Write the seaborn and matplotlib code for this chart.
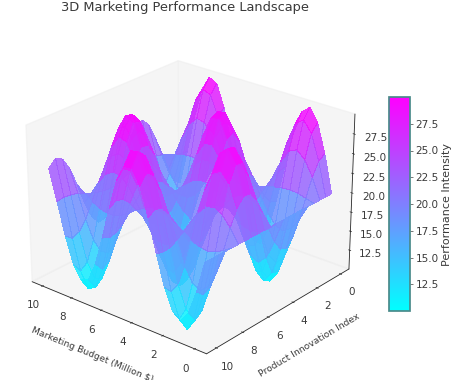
import numpy as np
import matplotlib
matplotlib.use("Agg")
import matplotlib.pyplot as plt
import seaborn as sns
from matplotlib.cm import ScalarMappable
from matplotlib.colors import Normalize

# Heights, one row per innovation value, one column per budget value
budget = [0, .5, 1, 1.5, 2, 2.5, 3, 3.5, 4, 4.5, 5, 5.5, 6, 6.5, 7, 7.5, 8, 8.5, 9, 9.5, 10]
innovation = [0, .5, 1, 1.5, 2, 2.5, 3, 3.5, 4, 4.5, 5, 5.5, 6, 6.5, 7, 7.5, 8, 8.5, 9, 9.5, 10]
performance = [
    [20,24.8,28.4,30,29.1,26,21.4,16.5,12.4,10.2,10.4,12.9,17.2,22.2,26.6,29.4,29.9,28,24.1,19.2,14.6],
    [20,24.2,27.4,28.8,28,25.3,21.2,16.9,13.3,11.4,11.6,13.8,17.5,21.9,25.8,28.3,28.7,27,23.6,19.3,15.3],
    [20,22.6,24.5,25.4,24.9,23.2,20.8,18.1,15.9,14.7,14.8,16.2,18.5,21.2,23.6,25.1,25.3,24.3,22.2,19.6,17.1],
    [20,20.3,20.6,20.7,20.6,20.4,20.1,19.8,19.5,19.3,19.3,19.5,19.8,20.2,20.5,20.7,20.7,20.6,20.3,19.9,19.6],
    [20,18,16.5,15.8,16.2,17.5,19.4,21.5,23.2,24.1,24,23,21.2,19.1,17.3,16.1,15.9,16.7,18.3,20.3,22.2],
    [20,16.2,13.3,12,12.7,15.2,18.9,22.8,26.1,27.8,27.7,25.7,22.2,18.2,14.7,12.5,12.1,13.6,16.7,20.6,24.3],
    [20,15.2,11.7,10.1,11,14.1,18.6,23.5,27.5,29.7,29.5,27,22.8,17.8,13.5,10.7,10.2,12.1,15.9,20.8,25.3],
    [20,15.5,12.1,10.6,11.5,14.4,18.7,23.3,27.1,29.2,29,26.6,22.6,17.9,13.8,11.2,10.7,12.5,16.2,20.7,25.1],
    [20,16.9,14.5,13.5,14,16.1,19.1,22.3,25,26.4,26.3,24.6,21.8,18.6,15.7,13.9,13.5,14.8,17.3,20.5,23.5],
    [20,19,18.2,17.9,18.1,18.7,19.7,20.7,21.6,22.1,22,21.5,20.6,19.5,18.6,18,17.9,18.3,19.1,20.2,21.1],
    [20,21.4,22.4,22.8,22.6,21.7,20.4,19,17.8,17.2,17.3,18,19.2,20.6,21.9,22.7,22.8,22.3,21.2,19.8,18.5],
    [20,23.4,26,27.1,26.5,24.3,21,17.5,14.6,13.1,13.2,15,18,21.6,24.7,26.7,27,25.7,22.9,19.4,16.2],
    [20,24.6,28.1,29.6,28.7,25.8,21.3,16.6,12.7,10.6,10.8,13.2,17.3,22.1,26.3,29,29.5,27.7,23.9,19.2,14.8],
    [20,24.7,28.2,29.8,28.9,25.9,21.4,16.6,12.6,10.4,10.6,13.1,17.3,22.1,26.4,29.2,29.7,27.8,24,19.2,14.7],
    [20,23.6,26.3,27.5,26.9,24.5,21.1,17.4,14.3,12.6,12.8,14.6,17.9,21.7,25,27.1,27.5,26,23.1,19.4,15.9],
    [20,21.7,22.9,23.5,23.2,22.1,20.5,18.8,17.4,16.6,16.7,17.5,19,20.8,22.3,23.3,23.4,22.8,21.4,19.7,18.1],
    [20,19.3,18.8,18.5,18.7,19.1,19.8,20.5,21.1,21.4,21.4,21,20.4,19.7,19,18.6,18.6,18.8,19.4,20.1,20.8],
    [20,17.1,14.9,14,14.5,16.4,19.2,22.1,24.6,25.9,25.8,24.3,21.7,18.7,16,14.3,14,15.2,17.5,20.5,23.3],
    [20,15.6,12.3,10.9,11.7,14.5,18.7,23.2,26.9,28.9,28.7,26.5,22.6,18,14,11.4,11,12.7,16.3,20.7,24.9],
    [20,15.2,11.6,10,10.9,14,18.6,23.5,27.6,29.8,29.6,27.1,22.8,17.8,13.4,10.6,10.1,12,15.9,20.8,25.4],
    [20,16,13,11.6,12.4,15,18.8,22.9,26.4,28.2,28.1,26,22.3,18.2,14.5,12.1,11.7,13.3,16.6,20.7,24.5],
]
xticks = [0, 2, 4, 6, 8, 10]
yticks = [0, 2, 4, 6, 8, 10]
zticks = [12.5, 15, 17.5, 20, 22.5, 25, 27.5]

sns.set_theme(style="white")
cmap = sns.color_palette("cool", as_cmap=True)
text_col = "#3a3a3a"

fig = plt.figure(figsize=(4.6, 3.8), dpi=100)
ax = fig.add_axes([0.019, -0.012, 0.774, 0.952], projection="3d")
X, Y = np.meshgrid(budget, innovation)
Z = np.array(performance)
norm = Normalize(10, 30)
ax.plot_surface(X, Y, Z, cmap=cmap, norm=norm, linewidth=0, antialiased=False,
                alpha=0.85, rstride=1, cstride=1, shade=False)
ax.view_init(elev=25, azim=130)
ax.set_zlim(10, 30)
ax.set_xticks(xticks)
ax.set_yticks(yticks)
ax.set_zticks(zticks)
ax.set_zticklabels([f"{v:.1f}" for v in zticks])
ax.tick_params(labelsize=7.5, labelcolor=text_col, pad=1, length=2)
ax.tick_params(axis="x", pad=0)
ax.tick_params(axis="y", pad=0)
ax.set_xlabel("Marketing Budget (Million $)", fontsize=6.7, color=text_col, labelpad=0)
ax.set_ylabel("Product Innovation Index", fontsize=6.7, color=text_col, labelpad=0)
ax.grid(False)
for axis in (ax.xaxis, ax.yaxis, ax.zaxis):
    axis.set_pane_color((0.93, 0.93, 0.93, 0.55))
    axis.pane.set_edgecolor("#eeeeee")
    axis.line.set_linewidth(0.6)
    axis._axinfo["tick"]["inward_factor"] = 0.08
    axis._axinfo["tick"]["outward_factor"] = 0.08
    axis._axinfo["tick"]["linewidth"] = {True: 0.5, False: 0.5}
fig.text(0.402, 0.981, "3D Marketing Performance Landscape", ha="center", va="center",
         fontsize=9.4, color=text_col)

cax = fig.add_axes([389 / 460, 1 - 311 / 380, 21 / 460, 214 / 380])
sm = ScalarMappable(norm=norm, cmap=cmap)
cb = fig.colorbar(sm, cax=cax, ticks=zticks, alpha=1)
cb.ax.set_yticklabels([f"{v:.1f}" for v in zticks])
cb.ax.tick_params(labelsize=7.5, labelcolor=text_col, length=2, pad=2, right=True, width=0.5, color="#444444")
cb.set_label("Performance Intensity", fontsize=8, color=text_col, labelpad=2)
cb.outline.set_edgecolor("#4a8a8a")
fig.savefig("out.png", dpi=100)
